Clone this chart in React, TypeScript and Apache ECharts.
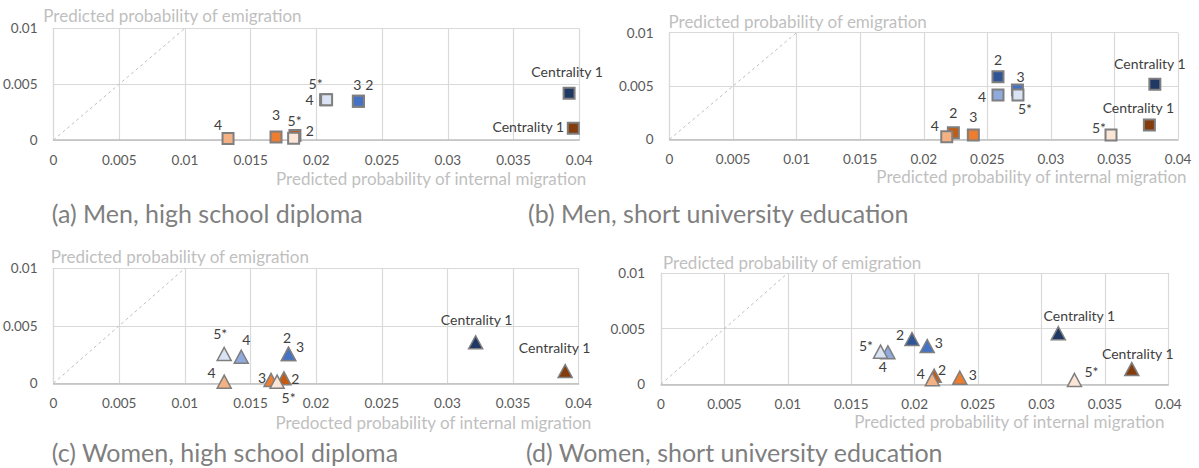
import React, { useEffect, useRef } from "react";
import * as echarts from "echarts";

// ---------- data ----------
const X_TICKS = ["0", "0.005", "0.01", "0.015", "0.02", "0.025", "0.03", "0.035", "0.04"];
const Y_TICKS = ["0", "0.005", "0.01"];
const LEVELS = ["Centrality 1", "2", "3", "4", "5*"];

// (a) Men, high school diploma
const aBlueX = [0.03923, 0.0232, 0.0232, 0.0207, 0.02078];
const aBlueY = [0.00418, 0.00346, 0.00346, 0.0036, 0.00361];
const aOrangeX = [0.03955, 0.01837, 0.01693, 0.01328, 0.01827];
const aOrangeY = [0.00105, 0.0004, 0.00027, 0.00013, 0.00015];

// (b) Men, short university education
const bBlueX = [0.03818, 0.02584, 0.02737, 0.02584, 0.02741];
const bBlueY = [0.00516, 0.00587, 0.00462, 0.00416, 0.00416];
const bOrangeX = [0.03775, 0.02233, 0.0239, 0.02181, 0.03473];
const bOrangeY = [0.00134, 0.00062, 0.0004, 0.00024, 0.0004];

// (c) Women, high school diploma
const cBlueX = [0.03215, 0.0179, 0.0179, 0.0143, 0.013];
const cBlueY = [0.00357, 0.00255, 0.00255, 0.00231, 0.00255];
const cOrangeX = [0.03897, 0.01755, 0.01657, 0.013, 0.01703];
const cOrangeY = [0.00107, 0.00043, 0.00029, 0.00014, 0.00014];

// (d) Women, short university education
const dBlueX = [0.03133, 0.01979, 0.02099, 0.01789, 0.01731];
const dBlueY = [0.00459, 0.00407, 0.00344, 0.00288, 0.00293];
const dOrangeX = [0.03712, 0.02154, 0.02356, 0.02139, 0.0326];
const dOrangeY = [0.00137, 0.00077, 0.00059, 0.00045, 0.00039];

const DIAG_X = [0, 0.01];
const DIAG_Y = [0, 0.01];

const CAPTIONS = [
  "(a) Men, high school diploma",
  "(b) Men, short university education",
  "(c) Women, high school diploma",
  "(d) Women, short university education",
];
const Y_TITLES = [
  "Predicted probability of emigration",
  "Predicted probability of emigration",
  "Predicted probability of emigration",
  "Predicted probability of emigration",
];
const X_TITLES = [
  "Predicted probability of internal migration",
  "Predicted probability of internal migration",
  "Predocted probability of internal migration",
  "Predicted probability of internal migration",
];

// ---------- styles / layout ----------
const BLUES = ["#203864", "#2F5597", "#4472C4", "#8FAADC", "#DAE3F3"];
const ORANGES = ["#843C0C", "#C55A11", "#ED7D31", "#F4B183", "#FBE5D6"];
const FONT = "Lato, 'Open Sans', sans-serif";

const GRIDS = [
  { left: 51.7, top: 28.3, width: 527.5, height: 111.7 },
  { left: 669.5, top: 32.7, width: 508.5, height: 106.6 },
  { left: 51.7, top: 268.3, width: 527, height: 115 },
  { left: 661, top: 273, width: 507.3, height: 111.3 },
];

const LABEL_OFFSETS = [
  {
    blue: [[-2, -22], [11, -17], [-1, -17], [-16, 0], [-11, -16]],
    orange: [[-45, -2], [15, -5], [0, -22], [-10, -14], [1, -18]],
  },
  {
    blue: [[-5, -21], [0, -17], [3, -14], [-16, 2], [7, 14]],
    orange: [[-11, -18], [0, -20], [0, -19], [-12, -11], [-12, -8]],
  },
  {
    blue: [[1, -23], [-1.5, -16], [11.5, -7], [5, -17], [-4, -20]],
    orange: [[-10.6, -23], [11.5, 0], [-9, -2], [-12.6, -9], [11.5, 16]],
  },
  {
    blue: [[21, -18], [-12, -5], [11.5, -4], [-5, 14], [-14.5, -6]],
    orange: [[6, -16], [8, -6], [13, -3], [-11.5, -6], [17, -8]],
  },
];

const Y_TITLE_POS = [
  [43.3, 15],
  [668.5, 21],
  [50.7, 256.7],
  [663, 262.3],
];
const X_TITLE_POS = [
  [586.3, 178.3],
  [1186.6, 176.7],
  [591.3, 422.3],
  [1164.5, 421],
];
const CAPTION_POS = [
  [51.7, 213],
  [528, 213],
  [51.7, 452],
  [526, 452],
];

const PANELS = [
  { bx: aBlueX, by: aBlueY, ox: aOrangeX, oy: aOrangeY, symbol: "rect" },
  { bx: bBlueX, by: bBlueY, ox: bOrangeX, oy: bOrangeY, symbol: "rect" },
  { bx: cBlueX, by: cBlueY, ox: cOrangeX, oy: cOrangeY, symbol: "triangle" },
  { bx: dBlueX, by: dBlueY, ox: dOrangeX, oy: dOrangeY, symbol: "triangle" },
];

function buildOption() {
  const grid: any[] = [];
  const xAxis: any[] = [];
  const yAxis: any[] = [];
  const series: any[] = [];
  const graphic: any[] = [];

  PANELS.forEach((p, i) => {
    grid.push({ ...GRIDS[i], containLabel: false });
    xAxis.push({
      type: "value",
      gridIndex: i,
      min: 0,
      max: 0.04,
      interval: 0.005,
      axisLine: { show: true, lineStyle: { color: "#BFBFBF", width: 1.5 } },
      axisTick: { show: false },
      splitLine: { show: true, lineStyle: { color: "#D9D9D9", width: 1.2 } },
      axisLabel: {
        color: "#595959",
        fontFamily: FONT,
        fontSize: 13.5,
        margin: 13,
        showMinLabel: true,
        showMaxLabel: true,
        formatter: (v: number) => X_TICKS[Math.round(v / 0.005)],
      },
    });
    yAxis.push({
      type: "value",
      gridIndex: i,
      min: 0,
      max: 0.01,
      interval: 0.005,
      axisLine: { show: true, lineStyle: { color: "#D9D9D9", width: 1.2 } },
      axisTick: { show: false },
      splitLine: { show: true, lineStyle: { color: "#D9D9D9", width: 1.2 } },
      axisLabel: {
        color: "#595959",
        fontFamily: FONT,
        fontSize: 13.5,
        margin: 16,
        formatter: (v: number) => Y_TICKS[Math.round(v / 0.005)],
      },
    });

    series.push({
      type: "line",
      xAxisIndex: i,
      yAxisIndex: i,
      data: DIAG_X.map((x, k) => [x, DIAG_Y[k]]),
      symbol: "none",
      silent: true,
      lineStyle: { color: "#BFBFBF", width: 1, type: [3, 3] },
      z: 1,
    });

    const isTri = p.symbol === "triangle";
    const mk = (xs: number[], ys: number[], colors: string[], offs: number[][], name: string) => ({
      type: "scatter",
      name,
      xAxisIndex: i,
      yAxisIndex: i,
      symbol: p.symbol,
      symbolSize: isTri ? [14, 13] : 11,
      z: 3,
      itemStyle: { borderColor: "#7F7F7F", borderWidth: isTri ? 1.5 : 2, opacity: 1 },
      label: {
        show: true,
        position: "inside",
        color: "#404040",
        fontFamily: FONT,
        fontSize: 14,
        lineHeight: 14,
        formatter: (prm: any) => LEVELS[prm.dataIndex],
      },
      data: xs.map((x, k) => ({
        value: [x, ys[k]],
        itemStyle: { color: colors[k] },
        label: { offset: offs[k] },
      })),
    });
    series.push(mk(p.ox, p.oy, ORANGES, LABEL_OFFSETS[i].orange, "Orange"));
    series.push(mk(p.bx, p.by, BLUES, LABEL_OFFSETS[i].blue, "Blue"));

    graphic.push({
      type: "text",
      x: Y_TITLE_POS[i][0],
      y: Y_TITLE_POS[i][1],
      style: {
        text: Y_TITLES[i],
        fill: "#BFBFBF",
        fontFamily: FONT,
        fontSize: 17,
        textAlign: "left",
        textVerticalAlign: "middle",
      },
    });
    graphic.push({
      type: "text",
      x: X_TITLE_POS[i][0],
      y: X_TITLE_POS[i][1],
      style: {
        text: X_TITLES[i],
        fill: "#BFBFBF",
        fontFamily: FONT,
        fontSize: 17,
        textAlign: "right",
        textVerticalAlign: "middle",
      },
    });
    graphic.push({
      type: "text",
      x: CAPTION_POS[i][0],
      y: CAPTION_POS[i][1],
      style: {
        text: CAPTIONS[i],
        fill: "#7F7F7F",
        fontFamily: FONT,
        fontSize: 25,
        textAlign: "left",
        textVerticalAlign: "middle",
      },
    });
  });

  return {
    animation: false,
    backgroundColor: "#FFFFFF",
    grid,
    xAxis,
    yAxis,
    series,
    graphic,
  };
}

export default function App() {
  const ref = useRef<HTMLDivElement>(null);
  useEffect(() => {
    document.body.style.margin = "0";
    if (!ref.current) return;
    const chart = echarts.init(ref.current, undefined, { renderer: "svg" });
    chart.setOption(buildOption());
    return () => chart.dispose();
  }, []);
  return <div ref={ref} style={{ width: 1199, height: 468 }} />;
}
